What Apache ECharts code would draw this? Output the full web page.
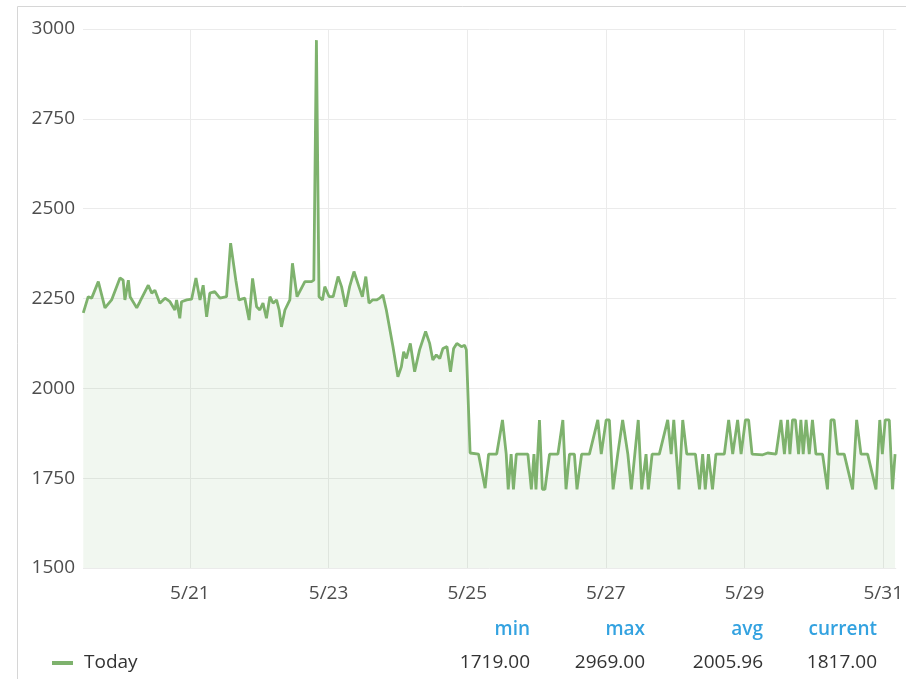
<!DOCTYPE html>
<html><head><meta charset="utf-8">
<script src="https://cdn.jsdelivr.net/npm/echarts@6/dist/echarts.min.js"></script>
<style>html,body{margin:0;padding:0;background:#fff}#c{width:906px;height:679px}</style>
</head><body><div id="c"></div>
<script>
// hours since 5/19 00:00
const hours = [11.1,12.8,14.0,16.3,18.6,20.9,23.8,24.9,25.5,26.7,27.3,29.6,30.7,33.6,34.8,35.9,37.6,39.4,41.1,42.8,43.4,44.5,45.1,46.9,48.6,50.1,51.5,52.6,53.8,54.9,56.6,58.4,60.7,62.1,63.9,65.0,67.0,68.5,69.7,71.1,72.2,73.3,74.5,75.7,76.8,78.0,78.9,79.7,80.9,82.6,83.5,85.1,86.0,87.8,90.1,90.9,91.8,92.7,93.9,94.7,96.2,97.6,99.3,100.5,101.9,103.3,104.8,106.5,107.7,108.9,110.0,111.2,112.6,113.7,114.8,116.0,118.3,120.0,121.2,122.0,122.9,124.3,125.8,127.5,129.6,131.0,132.1,133.3,134.5,135.6,137.0,138.2,139.3,140.4,142.0,143.1,143.7,145.0,147.9,150.2,151.4,154.2,156.2,157.5,158.2,159.2,160.0,161.0,165.0,166.2,167.1,167.8,169.0,170.0,170.9,172.5,175.4,177.1,178.2,179.4,181.1,182.0,183.6,186.3,189.2,190.4,192.1,193.2,194.5,196.1,197.8,199.6,200.8,203.2,204.4,205.9,206.7,208.0,210.5,213.4,214.6,215.5,217.3,218.6,220.0,223.0,224.4,225.5,226.4,227.5,228.9,230.1,233.0,234.5,235.9,237.6,238.8,240.3,241.4,242.6,246.3,248.0,250.9,252.6,253.8,254.9,255.7,256.6,257.6,258.7,259.5,260.3,261.3,262.4,263.5,264.7,267.0,268.7,269.9,271.0,272.2,274.5,277.4,278.8,280.3,282.6,285.5,286.8,287.7,288.7,290.1,291.2,292.1];
const values = [2210,2255,2251,2297,2224,2246,2307,2301,2246,2301,2255,2224,2241,2287,2265,2273,2237,2251,2241,2218,2246,2195,2241,2246,2248,2307,2246,2287,2199,2265,2269,2251,2255,2404,2301,2246,2251,2190,2306,2227,2218,2237,2195,2255,2237,2246,2218,2171,2218,2246,2348,2255,2269,2297,2297,2301,2969,2255,2246,2283,2255,2255,2311,2283,2227,2283,2325,2283,2255,2311,2237,2246,2246,2251,2260,2218,2116,2032,2060,2102,2083,2125,2046,2107,2158,2125,2079,2093,2083,2111,2116,2046,2111,2125,2116,2120,2107,1820,1817,1722,1817,1817,1912,1817,1719,1817,1719,1817,1817,1719,1817,1719,1912,1719,1719,1817,1817,1912,1719,1817,1817,1719,1817,1817,1912,1817,1912,1912,1719,1817,1912,1817,1719,1912,1719,1817,1719,1817,1817,1912,1817,1912,1719,1912,1817,1817,1719,1817,1719,1817,1719,1817,1817,1912,1817,1912,1817,1912,1912,1817,1815,1820,1817,1912,1817,1912,1817,1912,1912,1817,1912,1817,1912,1817,1912,1817,1817,1719,1912,1912,1817,1817,1719,1912,1817,1817,1719,1912,1817,1912,1912,1719,1817];
const tickHours = [48, 96, 144, 192, 240, 288];
const tickLabels = ['5/21', '5/23', '5/25', '5/27', '5/29', '5/31'];
const seriesName = 'Today';
const statNames = ['min', 'max', 'avg', 'current'];
const statValues = ['1719.00', '2969.00', '2005.96', '1817.00'];

const chart = echarts.init(document.getElementById('c'), null, {renderer: 'canvas'});
const font = '"Open Sans", sans-serif';
const fs = 19;
const statX = [530, 645, 763, 877];
const graphic = [
  {type: 'rect', shape: {x: 17.5, y: 6.5, width: 900, height: 700}, style: {fill: null, stroke: '#d6d6d6', lineWidth: 1}, silent: true, z: -1},
  {type: 'rect', shape: {x: 52, y: 661, width: 21, height: 4}, style: {fill: '#7eb26d'}},
  {type: 'text', x: 84, y: 663, style: {text: seriesName, fill: '#333', font: fs + 'px ' + font, textVerticalAlign: 'middle'}}
];
statNames.forEach((n, i) => {
  graphic.push({type: 'text', x: statX[i], y: 630, style: {text: n, fill: '#33a2e0', font: '600 ' + fs + 'px ' + font, textAlign: 'right', textVerticalAlign: 'middle'}});
  graphic.push({type: 'text', x: statX[i], y: 663, style: {text: statValues[i], fill: '#333', font: fs + 'px ' + font, textAlign: 'right', textVerticalAlign: 'middle'}});
});

chart.setOption({
  animation: false,
  backgroundColor: '#fff',
  grid: {left: 83, right: 9, top: 29, bottom: 111},
  xAxis: {
    type: 'value', min: 11, max: 292.5,
    axisLine: {show: false},
    axisTick: {show: false, customValues: tickHours},
    axisLabel: {customValues: tickHours, formatter: v => tickLabels[tickHours.indexOf(v)] || '', color: '#4d4d4d', fontSize: fs, fontFamily: font, margin: 16},
    splitLine: {show: true, lineStyle: {color: '#ebebeb', width: 1}}
  },
  yAxis: {
    type: 'value', min: 1500, max: 3000, interval: 250,
    axisLine: {show: false}, axisTick: {show: false},
    axisLabel: {color: '#4d4d4d', fontSize: fs, fontFamily: font, margin: 8, formatter: v => String(v)},
    splitLine: {lineStyle: {color: '#ebebeb', width: 1}}
  },
  series: [{
    name: seriesName, type: 'line',
    data: hours.map((h, i) => [h, values[i]]),
    showSymbol: false,
    lineStyle: {color: '#7eb26d', width: 2.8},
    itemStyle: {color: '#7eb26d'},
    areaStyle: {color: 'rgba(126,178,109,0.15)', origin: 'start'}
  }],
  graphic: graphic
});
</script></body></html>
